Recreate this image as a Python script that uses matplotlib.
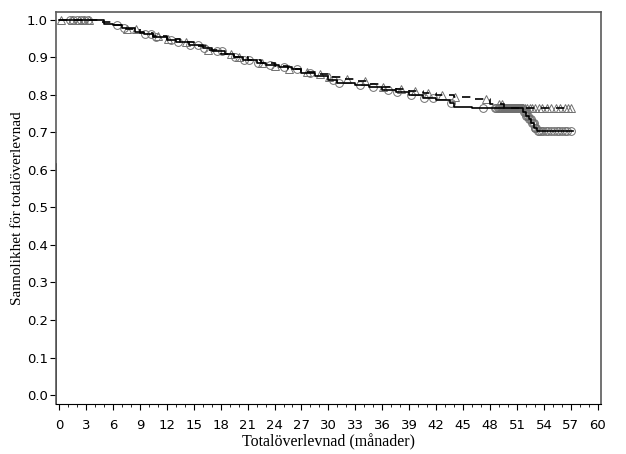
import numpy as np
import matplotlib
matplotlib.use("Agg")
import matplotlib.pyplot as plt

# Kaplan-Meier steps, group A (solid line, circle censor marks)
time_a = [0, 5, 6, 7, 8.5, 9.5, 10.5, 12, 13, 14.5, 16, 17, 18.5, 19.5, 20.5, 22, 23,
          24.5, 26, 27, 28.5, 30, 31, 33, 34.5, 36, 37.5, 39, 40.5, 42, 43.5, 44, 46,
          51.7, 52, 52.3, 52.6, 52.9, 53.2]
surv_a = [1.0, 0.99, 0.985, 0.978, 0.968, 0.962, 0.955, 0.947, 0.94, 0.932, 0.924, 0.917,
          0.908, 0.9, 0.892, 0.886, 0.88, 0.875, 0.868, 0.858, 0.85, 0.84, 0.833, 0.826,
          0.82, 0.813, 0.807, 0.8, 0.793, 0.787, 0.778, 0.768, 0.764,
          0.755, 0.745, 0.735, 0.725, 0.712, 0.704]
end_a = 57.2
cens_a = [1.2, 1.6, 2.0, 2.4, 2.8, 3.2, 6.5, 7.2, 9.6, 10.2, 10.8, 12.5, 13.2, 14.6,
          15.5, 16.2, 17.6, 18.2, 19.6, 20.6, 21.2, 22.2, 23.5, 25.0, 26.5, 28.0, 30.5,
          31.2, 33.5, 35.0, 36.6, 37.6, 39.2, 40.6, 41.6, 43.6, 47.2, 48.5, 48.7, 48.9,
          49.0, 49.1, 49.2, 49.3, 49.4, 49.5, 49.6, 49.7, 49.8, 49.9, 50.0, 50.1, 50.2,
          50.3, 50.4, 50.5, 50.6, 50.7, 50.8, 50.9, 51.0, 51.1, 51.2, 51.3, 51.4, 51.5,
          51.6, 51.75, 51.85, 51.95, 52.05, 52.15, 52.25, 52.35, 52.45, 52.55, 52.65,
          52.75, 52.85, 52.95, 53.05, 53.15, 53.3, 53.5, 53.7, 53.9, 54.2, 54.5, 54.8,
          55.1, 55.4, 55.7, 56.0, 56.3, 56.6, 57.0]

# group B (dashed line, triangle censor marks)
time_b = [0, 4.5, 6, 7.5, 9, 10.5, 12, 13.5, 15, 16.5, 18, 19.5, 21, 22.5, 24, 25.5, 27,
          28.5, 30, 31.5, 33, 34.5, 36, 37.5, 39, 40.5, 42, 44, 46, 48, 49.5]
surv_b = [1.0, 0.993, 0.985, 0.975, 0.965, 0.957, 0.948, 0.94, 0.93, 0.92, 0.91, 0.902,
          0.893, 0.885, 0.877, 0.87, 0.862, 0.855, 0.848, 0.842, 0.836, 0.83, 0.822,
          0.815, 0.81, 0.805, 0.8, 0.795, 0.79, 0.775, 0.765]
end_b = 57.0
cens_b = [0.2, 1.5, 2.2, 2.8, 3.3, 7.6, 8.6, 11.0, 12.1, 14.1, 16.6, 19.1, 20.1, 22.6,
          24.1, 25.6, 27.6, 29.1, 30.1, 32.1, 34.1, 36.1, 38.1, 39.6, 41.1, 42.6, 44.1,
          47.6, 49.0, 49.3, 49.5, 49.7, 49.9, 50.1, 50.3, 50.5, 50.7, 50.9, 51.1, 51.3,
          51.5, 51.7, 51.9, 52.1, 52.4, 52.7, 53.0, 53.4, 53.8, 54.3, 54.8, 55.3, 55.8,
          56.3, 56.7, 57.0]

x_ticks = list(range(0, 61, 3))
y_ticks = [0.0, 0.1, 0.2, 0.3, 0.4, 0.5, 0.6, 0.7, 0.8, 0.9, 1.0]


def step_value(times, surv, t):
    idx = np.searchsorted(times, t, side="right") - 1
    return np.array(surv)[idx]


fig = plt.figure(figsize=(6.26, 4.54), dpi=100)
ax = fig.add_axes([0.0895, 0.110, 0.8705, 0.8636])

ax.plot(cens_a, step_value(time_a, surv_a, cens_a), "o", ms=5.6, mfc="none",
        mec="#707070", mew=0.7)
ax.plot(cens_b, step_value(time_b, surv_b, cens_b), "^", ms=5.6, mfc="none",
        mec="#707070", mew=0.7)

ax.step(time_a + [end_a], surv_a + [surv_a[-1]], where="post", color="black", lw=1.2)
ax.step(time_b + [end_b], surv_b + [surv_b[-1]], where="post", color="black", lw=1.2,
        dashes=(5, 4))

ax.set_xlim(-0.33, 60.35)
ax.set_ylim(-0.024, 1.021)
ax.set_xticks(x_ticks)
ax.set_xticks(range(0, 61), minor=True)
ax.set_yticks(y_ticks)
ax.set_yticklabels([f"{v:.1f}" for v in y_ticks])
ax.tick_params(axis="both", which="major", length=4, width=0.8, labelsize=9.5,
               direction="out", pad=2)
ax.tick_params(axis="x", which="minor", length=2, width=0.6)
ax.tick_params(axis="x", pad=7)

for side in ["top", "right", "left"]:
    ax.spines[side].set_color("#5a5a5a")
    ax.spines[side].set_linewidth(1.2)
ax.spines["bottom"].set_color("black")
ax.axvline(ax.get_xlim()[0], ymin=0, ymax=(0.615 + 0.024) / 1.045, color="black",
           lw=1.2)

ax.set_xlabel("Totalöverlevnad (månader)", family="Liberation Serif", fontsize=11.5,
              labelpad=1)
ax.set_ylabel("Sannolikhet för totalöverlevnad", family="Liberation Serif",
              fontsize=11)
ax.yaxis.set_label_coords(-0.058, 0.5)

fig.savefig("out.png", dpi=100)
